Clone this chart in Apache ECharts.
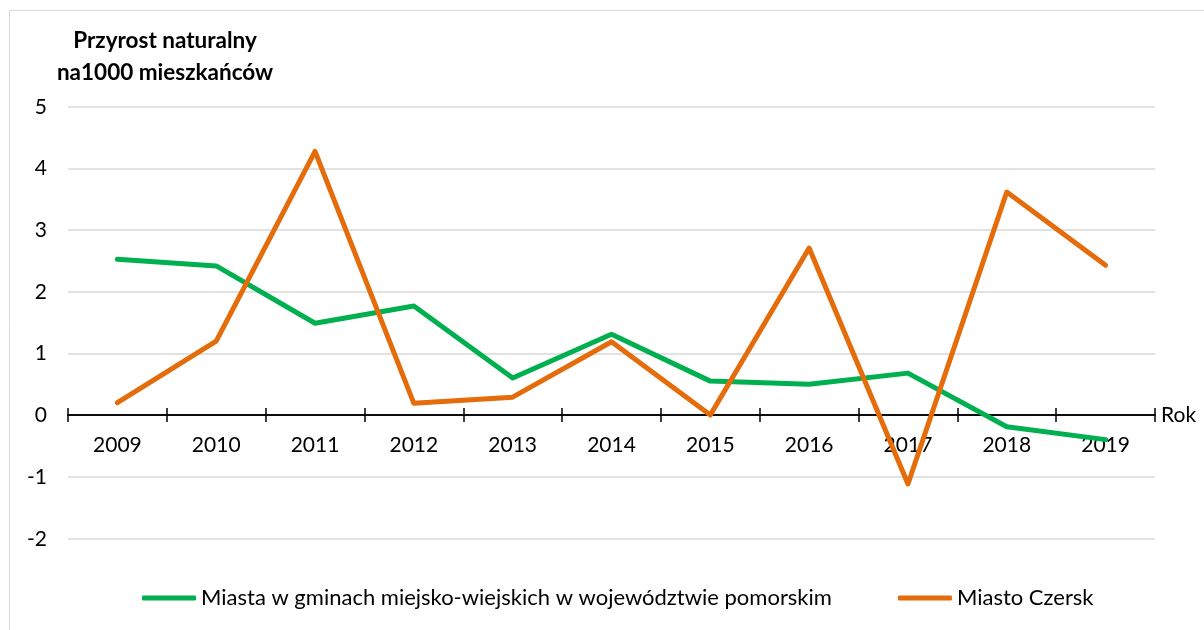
<!DOCTYPE html>
<html>
<head>
<meta charset="utf-8">
<script src="https://cdn.jsdelivr.net/npm/echarts@6/dist/echarts.min.js"></script>
<style>
  html, body { margin: 0; padding: 0; background: #fff; }
  #main { width: 1204px; height: 630px; }
</style>
</head>
<body>
<div id="main"></div>
<script>
// lata i wartości przyrostu naturalnego
var years = ['2009', '2010', '2011', '2012', '2013', '2014', '2015', '2016', '2017', '2018', '2019'];
var miastaPomorskie = [2.53, 2.42, 1.49, 1.77, 0.60, 1.31, 0.55, 0.50, 0.68, -0.19, -0.40];
var miastoCzersk = [0.20, 1.20, 4.28, 0.19, 0.29, 1.19, 0.00, 2.71, -1.12, 3.62, 2.43];
var seriesNames = ['Miasta w gminach miejsko-wiejskich w województwie pomorskim', 'Miasto Czersk'];

var font = 'Lato, "Open Sans", sans-serif';
var tickStyle = { color: '#000', width: 1.5 };
var myChart = echarts.init(document.getElementById('main'));

// dwie siatki: górna (0..5) z osią X na zerze, dolna (-2..0) z kreskami w górę
myChart.setOption({
  animation: false,
  color: ['#00B050', '#E46C0A'],
  title: {
    text: 'Przyrost naturalny\nna1000 mieszkańców',
    left: 160,
    top: 20,
    textAlign: 'center',
    textStyle: {
      fontFamily: font,
      fontSize: 22.5,
      fontWeight: 'bold',
      color: '#000',
      lineHeight: 32
    }
  },
  graphic: [{
    type: 'rect',
    shape: { x: 9.5, y: 10.5, width: 1300, height: 700 },
    style: { fill: 'none', stroke: '#d9d9d9', lineWidth: 1 },
    silent: true
  }],
  legend: {
    top: 582,
    left: 137,
    itemGap: 66,
    itemWidth: 54,
    itemHeight: 5,
    icon: 'roundRect',
    textStyle: { fontFamily: font, fontSize: 22, color: '#000', padding: [0, 0, 0, 0] },
    data: seriesNames
  },
  grid: [
    { left: 68, right: 49, top: 107, height: 308 },
    { left: 68, right: 49, top: 415, height: 124 }
  ],
  xAxis: [{
    gridIndex: 0,
    type: 'category',
    data: years,
    boundaryGap: true,
    position: 'bottom',
    name: 'Rok',
    nameGap: 6,
    nameTextStyle: { fontFamily: font, fontSize: 21, color: '#000' },
    axisLine: { onZero: false, lineStyle: tickStyle },
    axisTick: { show: true, length: 7, lineStyle: tickStyle },
    axisLabel: { fontFamily: font, fontSize: 21, color: '#000', margin: 20 },
    z: 1
  }, {
    gridIndex: 1,
    type: 'category',
    data: years,
    boundaryGap: true,
    position: 'top',
    axisLine: { onZero: false, lineStyle: tickStyle },
    axisTick: { show: true, length: 7, lineStyle: tickStyle },
    axisLabel: { show: false },
    z: 1
  }],
  yAxis: [{
    gridIndex: 0,
    type: 'value',
    min: 0,
    max: 5,
    interval: 1,
    axisLine: { show: false },
    axisTick: { show: false },
    axisLabel: { fontFamily: font, fontSize: 21, color: '#000', margin: 21 },
    splitLine: { lineStyle: { color: '#d9d9d9', width: 1.5 } }
  }, {
    gridIndex: 1,
    type: 'value',
    min: -2,
    max: 0,
    interval: 1,
    axisLine: { show: false },
    axisTick: { show: false },
    axisLabel: {
      fontFamily: font, fontSize: 21, color: '#000', margin: 21,
      formatter: function (v) { return v === 0 ? '' : String(v); }
    },
    splitLine: { lineStyle: { color: '#d9d9d9', width: 1.5 } }
  }],
  series: [{
    name: seriesNames[0],
    type: 'line',
    xAxisIndex: 0,
    yAxisIndex: 0,
    data: miastaPomorskie,
    clip: false,
    symbol: 'none',
    lineStyle: { width: 5, cap: 'round', join: 'round' },
    z: 3
  }, {
    name: seriesNames[1],
    type: 'line',
    xAxisIndex: 0,
    yAxisIndex: 0,
    data: miastoCzersk,
    clip: false,
    symbol: 'none',
    lineStyle: { width: 5, cap: 'round', join: 'round' },
    z: 4
  }]
});
</script>
</body>
</html>
